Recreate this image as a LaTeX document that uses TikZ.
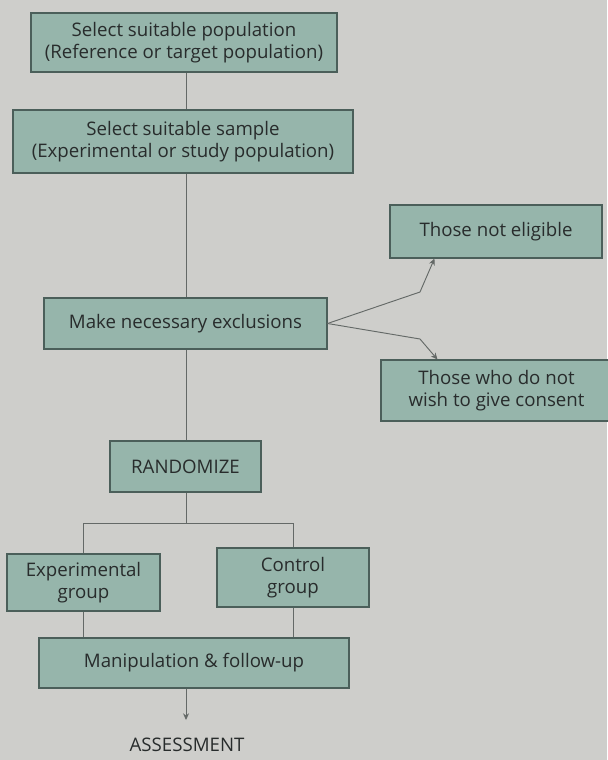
\documentclass[tikz,border=0pt]{standalone}
\usepackage{fontspec}
\setmainfont{Open Sans}
\usetikzlibrary{arrows.meta}
\definecolor{bgc}{RGB}{206,206,203}
\definecolor{boxc}{RGB}{150,181,171}
\definecolor{edgec}{RGB}{75,95,90}
\definecolor{linec}{RGB}{100,105,103}
\definecolor{txtc}{RGB}{40,44,44}
\begin{document}
\begin{tikzpicture}[x=0.75pt,y=-0.75pt,
  box/.style={draw=edgec, fill=boxc, line width=0.8pt, align=center, inner sep=0pt,
    font=\fontsize{14}{16.5}\selectfont, text=txtc},
  conn/.style={draw=linec, line width=0.7pt},
  arr/.style={conn, -{Stealth[length=5pt,width=4.5pt]}}]
\fill[bgc] (0,0) rectangle (607,760);
\useasboundingbox (0,0) rectangle (607,760);

\node[box, minimum width=229.5pt, minimum height=44.25pt] (b1) at (184,42.5)
  {Select suitable population\\(Reference or target population)};
\node[box, minimum width=255pt, minimum height=47.25pt] (b2) at (183,141.5)
  {Select suitable sample\\(Experimental or study population)};
\node[box, minimum width=212.25pt, minimum height=38.25pt] (ex) at (185.5,323.5)
  {Make necessary exclusions};
\node[box, minimum width=159pt, minimum height=39.75pt] (ne) at (496,231.5)
  {Those not eligible};
\node[box, minimum width=173.25pt, minimum height=45.75pt] (cs) at (496.5,390.5)
  {Those who do not\\wish to give consent};
\node[box, minimum width=113.25pt, minimum height=38.25pt] (rnd) at (185.5,466.5)
  {RANDOMIZE};
\node[box, minimum width=114.75pt, minimum height=42.75pt] (exp) at (83.5,582.5)
  {Experimental\\group};
\node[box, minimum width=114pt, minimum height=44.25pt] (ctl) at (293,577.5)
  {Control\\group};
\node[box, minimum width=232.5pt, minimum height=37.5pt] (man) at (194,663)
  {Manipulation \& follow-up};
\node[font=\fontsize{14}{16.5}\selectfont, text=txtc, inner sep=0pt] (ass) at (187,745)
  {ASSESSMENT};

\coordinate (tx) at (186,0);
\coordinate (sp) at (186,523);
\coordinate (ae) at (186,720);
\coordinate (bu) at (420,292);
\coordinate (bd) at (420,339);

\draw[conn] (tx |- b1.south) -- (tx |- b2.north);
\draw[conn] (tx |- b2.south) -- (tx |- ex.north);
\draw[conn] (tx |- ex.south) -- (tx |- rnd.north);
\draw[conn] (tx |- rnd.south) -- (sp);
\draw[conn] (exp.north) |- (ctl.north |- sp) -- (ctl.north);
\draw[conn] (exp.south) -- (exp.south |- man.north);
\draw[conn] (ctl.south) -- (ctl.south |- man.north);
\draw[arr] (tx |- man.south) -- (ae);

\draw[arr] (ex.east) -- (bu) -- ([xshift=33.75pt]ne.south west);
\draw[arr] (ex.east) -- (bd) -- ([xshift=42.75pt]cs.north west);
\end{tikzpicture}
\end{document}
